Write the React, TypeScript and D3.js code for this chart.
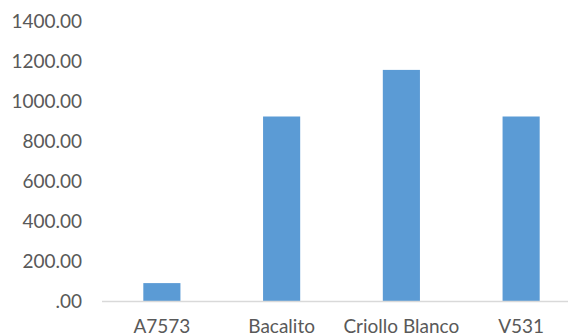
import { useEffect, useRef } from 'react'
import * as d3 from 'd3'

const categories = ['A7573', 'Bacalito', 'Criollo Blanco', 'V531']
const values = [92, 925, 1158, 925]
const yTicks = [0, 200, 400, 600, 800, 1000, 1200, 1400]

const fmt = (v: number) => (v === 0 ? '.00' : v.toFixed(2))

export default function App() {
  const svgRef = useRef<SVGSVGElement>(null)

  useEffect(() => {
    if (!svgRef.current) return
    const svg = d3.select(svgRef.current)
    svg.selectAll('*').remove()

    const width = 568
    const height = 336
    const font = 'Lato, "Open Sans", sans-serif'

    // plot area runs past the right edge, like the source crop
    const xScale = d3.scaleBand<string>().domain(categories).range([102, 581]).paddingInner(0.69).paddingOuter(0.345)
    const yScale = d3.scaleLinear().domain([0, 1400]).range([301.5, 21.5])

    svg.attr('width', width).attr('height', height)

    svg.append('rect').attr('width', width).attr('height', height).attr('fill', '#fff')

    // Bars
    svg
      .append('g')
      .selectAll('rect')
      .data(values)
      .join('rect')
      .attr('x', (_, i) => xScale(categories[i]) as number)
      .attr('y', (d) => yScale(d))
      .attr('width', xScale.bandwidth())
      .attr('height', (d) => yScale(0) - yScale(d))
      .attr('fill', '#5B9BD5')

    // Baseline
    svg
      .append('line')
      .attr('x1', 102)
      .attr('x2', 581)
      .attr('y1', yScale(0))
      .attr('y2', yScale(0))
      .attr('stroke', '#D9D9D9')
      .attr('stroke-width', 1.5)

    // Y labels
    svg
      .append('g')
      .selectAll('text')
      .data(yTicks)
      .join('text')
      .attr('x', 82)
      .attr('y', (d) => yScale(d))
      .attr('dy', '0.36em')
      .attr('text-anchor', 'end')
      .attr('fill', '#595959')
      .attr('font-family', font)
      .attr('font-size', '19px')
      .text((d) => fmt(d))

    // X labels
    svg
      .append('g')
      .selectAll('text')
      .data(categories)
      .join('text')
      .attr('x', (d) => (xScale(d) as number) + xScale.bandwidth() / 2)
      .attr('y', 333)
      .attr('text-anchor', 'middle')
      .attr('fill', '#595959')
      .attr('font-family', font)
      .attr('font-size', '19px')
      .text((d) => d)
  }, [])

  return (
    <div style={{ position: 'absolute', left: 0, top: 0 }}>
      <svg ref={svgRef} style={{ display: 'block' }} />
    </div>
  )
}
